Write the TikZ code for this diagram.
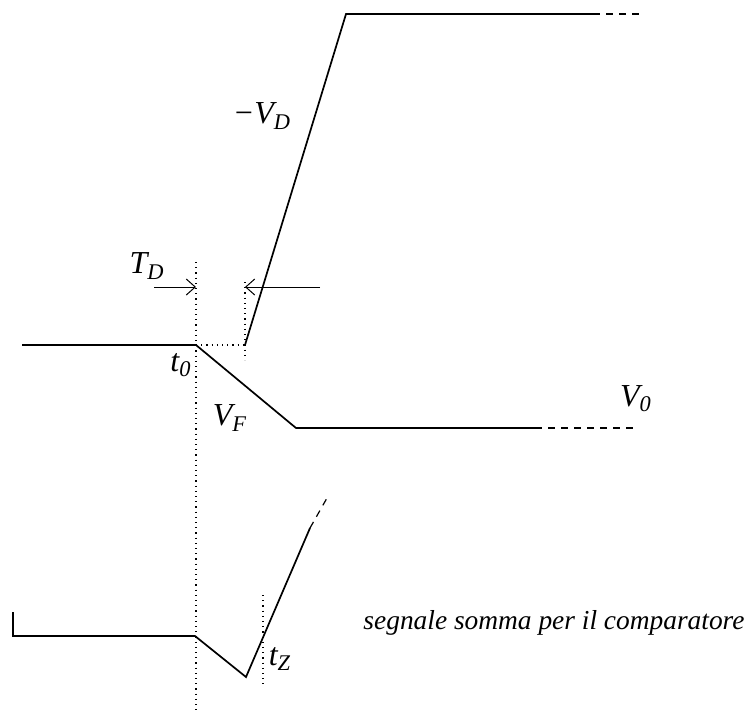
\documentclass[tikz,border=0pt]{standalone}
\usepackage{fontspec}
\setmainfont{Liberation Serif}
\usetikzlibrary{arrows.meta}
\tikzset{
  wave/.style={line width=0.85pt, line join=miter},
  tail/.style={line width=0.6pt, dash pattern=on 3.5pt off 3pt},
  guide/.style={line width=0.6pt, dotted},
  marker/.style={line width=0.5pt, -{Straight Barb[length=4.5pt,width=8pt]}},
  lbl/.style={font=\fontsize{16}{18}\selectfont\itshape, inner sep=0pt},
  caption/.style={font=\fontsize{13.7}{16}\selectfont\itshape, inner sep=0pt},
}

\begin{document}
\begin{tikzpicture}[x=0.5pt, y=-0.5pt]
\useasboundingbox (0,0) rectangle (748,713);
% input step and filtered response
\coordinate (start) at (22,345);
\coordinate (t0) at (196,345);
\coordinate (vf) at (296,428);
\coordinate (v0) at (535,428);
\coordinate (v0end) at (638,428);
\draw[wave] (start) -- (t0) -- (vf) -- (v0);
\draw[tail] (v0) -- (v0end);
% delayed inverted ramp
\coordinate (td) at (245,345);
\coordinate (peak) at (346,14);
\coordinate (peakr) at (593,14);
\coordinate (peakend) at (645,14);
\draw[wave] (td) -- (peak) -- (peakr);
\draw[tail] (peakr) -- (peakend);
% guides
\coordinate (g0top) at (196,262);
\coordinate (g0bot) at (196,710);
\coordinate (g1top) at (245,282);
\coordinate (g1bot) at (245,360);
\draw[guide] (g0top) -- (g0bot);
\draw[guide] (t0) -- (td);
\draw[guide] (g1top) -- (g1bot);
% delay markers
\coordinate (ml) at (154,287);
\coordinate (mlend) at (196,287);
\coordinate (mr) at (320,287);
\coordinate (mrend) at (245,287);
\draw[marker] (ml) -- (mlend);
\draw[marker] (mr) -- (mrend);
% sum signal
\coordinate (s0) at (13,612);
\coordinate (s1) at (13,636);
\coordinate (s2) at (195,636);
\coordinate (smin) at (246,677);
\coordinate (s3) at (310,528);
\coordinate (send) at (327,498);
\draw[wave] (s0) -- (s1) -- (s2) -- (smin) -- (s3);
\draw[tail] (s3) -- (send);
\coordinate (gztop) at (263,595);
\coordinate (gzbot) at (263,684);
\draw[guide] (gztop) -- (gzbot);
% labels
\node[lbl] (lTD) at (147,266) {T\textsubscript{D}};
\node[lbl] (lt0) at (181,365) {t\textsubscript{0}};
\node[lbl] (lVF) at (230,418) {V\textsubscript{F}};
\node[lbl] (lV0) at (636,399) {V\textsubscript{0}};
\node[lbl] (lVD) at (262,116) {−V\textsubscript{D}};
\node[lbl] (ltZ) at (280,659) {t\textsubscript{Z}};
\node[caption] (lsum) at (554,623) {segnale somma per il comparatore};
\end{tikzpicture}
\end{document}
